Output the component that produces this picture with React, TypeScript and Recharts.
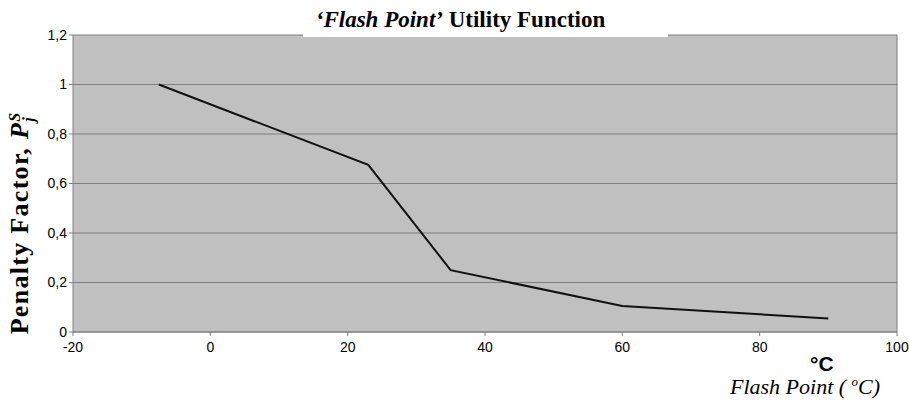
import {
    LineChart,
    Line,
    XAxis,
    YAxis,
    CartesianGrid,
    ReferenceLine,
} from 'recharts';

// flash point (°C) vs penalty factor
const flashPoint = [-7.5, 23, 35, 60, 90];
const penalty = [1.0, 0.675, 0.25, 0.105, 0.055];
const xTicks = [-20, 0, 20, 40, 60, 80, 100];
const yTicks = [0, 0.2, 0.4, 0.6, 0.8, 1, 1.2];

const data = flashPoint.map((x, i) => ({ x, p: penalty[i] }));

const tickStyle = { fontSize: 14, fontFamily: 'Liberation Sans, Arial, sans-serif', fill: '#000' };
const fmt = (v: number) => String(Math.round(v * 10) / 10).replace('.', ',');

export default function App() {
    return (
        <div style={{ position: 'absolute', left: 0, top: 0, width: 909, height: 400, background: '#fff', overflow: 'hidden' }}>
            <LineChart
                width={909}
                height={400}
                data={data}
                margin={{ top: 35, right: 12, bottom: 38, left: 28 }}
            >
                <CartesianGrid vertical={false} fill="#c0c0c0" stroke="#7f7f7f" />
                <XAxis
                    type="number"
                    dataKey="x"
                    domain={[-20, 100]}
                    ticks={xTicks}
                    stroke="#7f7f7f"
                    tickSize={4}
                    tick={tickStyle}
                    tickMargin={6}
                    height={30}
                />
                <YAxis
                    type="number"
                    domain={[0, 1.2]}
                    ticks={yTicks}
                    tickFormatter={fmt}
                    stroke="#7f7f7f"
                    tickSize={4}
                    tick={tickStyle}
                    tickMargin={2}
                    width={45}
                />
                <ReferenceLine x={100} stroke="#7f7f7f" />
                <Line
                    type="linear"
                    dataKey="p"
                    stroke="#111"
                    strokeWidth={2}
                    dot={false}
                    isAnimationActive={false}
                />
            </LineChart>
            {/* title sits on a white box that hides the top border */}
            <div
                style={{
                    position: 'absolute', left: 303, top: 0, width: 365, height: 37, background: '#fff',
                    textAlign: 'center', fontFamily: 'Liberation Serif, serif', fontWeight: 'bold', fontSize: 23,
                    lineHeight: '28px', paddingTop: 6, boxSizing: 'border-box', paddingRight: 50,
                }}
            >
                <i>‘Flash Point’</i> Utility Function
            </div>
            <div style={{ position: 'absolute', left: 21, top: 223, width: 0, height: 0 }}>
                <div
                    style={{
                        position: 'absolute', transform: 'translate(-50%, -50%) rotate(-90deg)',
                        whiteSpace: 'nowrap', fontFamily: 'Liberation Serif, serif', fontWeight: 'bold', fontSize: 26,
                        letterSpacing: 1.3,
                    }}
                >
                    Penalty Factor, <i>P</i>
                    <span style={{ display: 'inline-flex', flexDirection: 'column', verticalAlign: 'middle', fontSize: 16, lineHeight: '14px' }}>
                        <i>S</i>
                        <i>j</i>
                    </span>
                </div>
            </div>
            <div style={{ position: 'absolute', left: 810, top: 352, fontFamily: 'Liberation Sans, Arial, sans-serif', fontWeight: 'bold', fontSize: 21 }}>
                °C
            </div>
            <div style={{ position: 'absolute', left: 730, top: 374, fontFamily: 'Liberation Serif, serif', fontStyle: 'italic', fontSize: 22, whiteSpace: 'nowrap' }}>
                Flash Point ( <sup style={{ fontSize: 13 }}>o</sup>C)
            </div>
        </div>
    );
}
